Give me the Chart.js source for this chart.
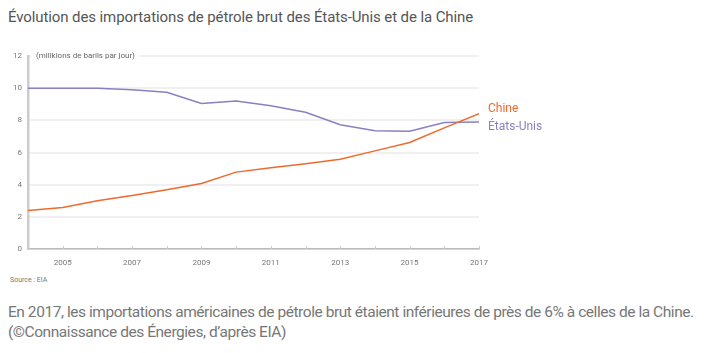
<!DOCTYPE html>
<html>
<head>
<meta charset="utf-8">
<script src="https://cdn.jsdelivr.net/npm/chart.js@4"></script>
<style>
  body { margin: 0; background: #fff; font-family: Roboto, sans-serif; width: 725px; height: 353px; overflow: hidden; position: relative; }
  #title { position: absolute; left: 8px; top: 8px; font-size: 15px; color: #555; white-space: nowrap; letter-spacing: -0.1px; }
  #wrap { position: absolute; left: 0; top: 45px; width: 560px; height: 230px; }
  #source { position: absolute; left: 10px; top: 276px; font-size: 7px; color: #777; }
  #caption { position: absolute; left: 8px; top: 302px; font-size: 15.5px; line-height: 20px; color: #777; white-space: nowrap; letter-spacing: -0.45px; }
</style>
</head>
<body>
<div id="title">Évolution des importations de pétrole brut des États-Unis et de la Chine</div>
<div id="wrap"><canvas id="chart"></canvas></div>
<div id="source">Source : EIA</div>
<div id="caption">En 2017, les importations américaines de pétrole brut étaient inférieures de près de 6% à celles de la Chine.<br>(©Connaissance des Énergies, d’après EIA)</div>
<script>
const years = [2004, 2005, 2006, 2007, 2008, 2009, 2010, 2011, 2012, 2013, 2014, 2015, 2016, 2017];
const chine = [2.39, 2.58, 3.0, 3.33, 3.69, 4.07, 4.78, 5.05, 5.3, 5.58, 6.1, 6.62, 7.53, 8.41];
const etatsUnis = [10.0, 10.0, 10.0, 9.9, 9.75, 9.05, 9.2, 8.9, 8.5, 7.73, 7.36, 7.32, 7.86, 7.9];
const yTicks = [0, 2, 4, 6, 8, 10, 12];
const unitLabel = '(millkions de barils par jour)';

const orange = '#ee6a2c';
const purple = '#8a7fc2';

const extras = {
  id: 'extras',
  afterDatasetsDraw(chart) {
    const ctx = chart.ctx;
    const x = chart.scales.x, y = chart.scales.y;
    const area = chart.chartArea;
    ctx.save();
    // ticks on x axis, pointing up
    ctx.strokeStyle = '#ccc';
    ctx.lineWidth = 1;
    years.forEach(yr => {
      const px = Math.round(x.getPixelForValue(yr)) + 0.5;
      ctx.beginPath();
      ctx.moveTo(px, area.bottom);
      ctx.lineTo(px, area.bottom - 3);
      ctx.stroke();
    });
    // unit label on top grid line
    ctx.font = '8px Roboto';
    const ty = y.getPixelForValue(12);
    const w = ctx.measureText(unitLabel).width;
    ctx.fillStyle = '#fff';
    ctx.fillRect(area.left + 3, ty - 5, w + 9, 10);
    ctx.fillStyle = '#666';
    ctx.textBaseline = 'middle';
    ctx.fillText(unitLabel, area.left + 8, ty);
    // series labels at line ends
    const last = years.length - 1;
    ctx.font = '12px Roboto';
    ctx.fillStyle = orange;
    ctx.fillText('Chine', area.right + 9, y.getPixelForValue(chine[last]) - 5);
    ctx.fillStyle = purple;
    ctx.fillText('États-Unis', area.right + 9, y.getPixelForValue(etatsUnis[last]) + 5);
    ctx.restore();
  }
};

new Chart(document.getElementById('chart'), {
  type: 'line',
  data: {
    datasets: [
      { label: 'Chine', data: years.map((yr, i) => ({ x: yr, y: chine[i] })), borderColor: orange, borderWidth: 1.5, pointRadius: 0, tension: 0 },
      { label: 'États-Unis', data: years.map((yr, i) => ({ x: yr, y: etatsUnis[i] })), borderColor: purple, borderWidth: 1.5, pointRadius: 0, tension: 0 }
    ]
  },
  options: {
    responsive: true,
    maintainAspectRatio: false,
    animation: false,
    layout: { padding: { top: 11, right: 81, left: 0, bottom: 0 } },
    plugins: { legend: { display: false }, tooltip: { enabled: false } },
    scales: {
      x: {
        type: 'linear',
        min: 2004,
        max: 2017,
        afterFit(scale) { scale.height = 26; },
        grid: { display: false, drawTicks: false },
        border: { color: '#bbb', width: 1.5 },
        ticks: {
          stepSize: 1,
          padding: 9,
          color: '#777',
          font: { family: 'Roboto', size: 8 },
          maxRotation: 0,
          autoSkip: false,
          callback: v => (v % 2 === 1 ? String(v) : '')
        }
      },
      y: {
        min: 0,
        max: 12,
        afterFit(scale) { scale.width = 28; },
        afterBuildTicks(scale) { scale.ticks = yTicks.map(v => ({ value: v })); },
        grid: { color: '#f0f0f0', lineWidth: 2, drawTicks: false },
        border: { color: '#ccc', width: 2.5 },
        ticks: { padding: 6, color: '#777', font: { family: 'Roboto', size: 8 } }
      }
    }
  },
  plugins: [extras]
});
</script>
</body>
</html>
